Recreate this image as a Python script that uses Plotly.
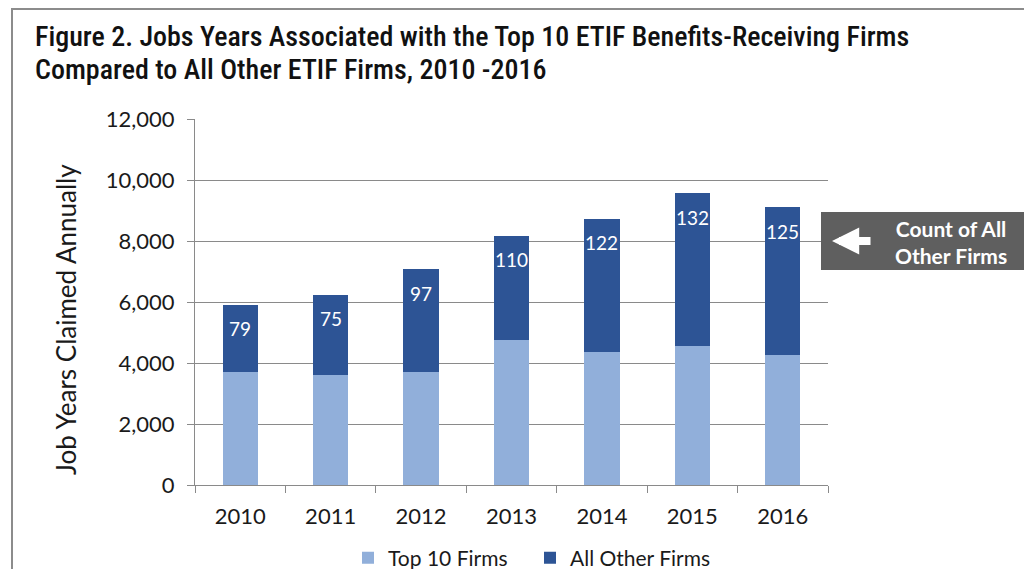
import plotly.graph_objects as go

years = ["2010", "2011", "2012", "2013", "2014", "2015", "2016"]
top10_jobs = [3690, 3610, 3700, 4740, 4350, 4560, 4270]
other_jobs = [2220, 2630, 3380, 3430, 4380, 5010, 4830]
other_counts = [79, 75, 97, 110, 122, 132, 125]

LIGHT = "#91AFDA"
DARK = "#2D5495"
TICKFONT = "Lato, 'Open Sans', sans-serif"
TITLEFONT = "'Liberation Sans Narrow', 'Roboto Condensed', Roboto, sans-serif"

OFF = 8  # page body margin
W, H = 1032 - 2 * OFF, 577 - 2 * OFF
L, R, T, B = 195 - OFF, 1032 - 828 - OFF, 119 - OFF, 577 - 485 - OFF
PW, PH = W - L - R, H - T - B


def px(x):
    return (x - OFF - L) / PW


def py(y):
    return (H - B - (y - OFF)) / PH


fig = go.Figure()
fig.add_trace(go.Bar(x=years, y=top10_jobs, name="Top 10 Firms",
                     marker=dict(color=LIGHT, line=dict(width=0))))
fig.add_trace(go.Bar(x=years, y=other_jobs, name="All Other Firms",
                     marker=dict(color=DARK, line=dict(width=0))))

annotations = []
for i, (a, b, c) in enumerate(zip(top10_jobs, other_jobs, other_counts)):
    annotations.append(dict(x=i, y=a + b, xref="x", yref="y", text=str(c),
                            showarrow=False, yanchor="middle", yshift=-24,
                            font=dict(family=TICKFONT, size=19, color="white")))

# title lines
annotations.append(dict(x=px(33), y=py(37), xref="paper", yref="paper",
                        text="Figure 2. Jobs Years Associated with the Top 10 ETIF Benefits-Receiving Firms",
                        showarrow=False, xanchor="left", yanchor="middle",
                        font=dict(family=TITLEFONT, size=28, weight=500, color="#111111")))
annotations.append(dict(x=px(33), y=py(69), xref="paper", yref="paper",
                        text="Compared to All Other ETIF Firms, 2010 -2016",
                        showarrow=False, xanchor="left", yanchor="middle",
                        font=dict(family=TITLEFONT, size=28, weight=500, color="#111111")))
# y axis title
annotations.append(dict(x=px(66), y=py(320), xref="paper", yref="paper",
                        text="Job Years Claimed Annually", textangle=-90,
                        showarrow=False, xanchor="center", yanchor="middle",
                        font=dict(family=TICKFONT, size=26, color="#1a1a1a")))
# callout text
annotations.append(dict(x=px(951), y=py(242), xref="paper", yref="paper",
                        text="<b>Count of All<br>Other Firms</b>", showarrow=False,
                        xanchor="center", yanchor="middle", align="center",
                        font=dict(family=TICKFONT, size=21, color="white")))
# callout arrow
annotations.append(dict(x=px(832), y=py(241), xref="paper", yref="paper",
                        ax=40, ay=0, axref="pixel", ayref="pixel",
                        text="", showarrow=True, arrowhead=2, arrowsize=0.68,
                        arrowwidth=8, arrowcolor="white"))

shapes = [
    dict(type="rect", xref="paper", yref="paper",
         x0=px(821), x1=px(1030), y0=py(270), y1=py(212),
         fillcolor="#5f5f5f", line=dict(width=0), layer="above"),
    dict(type="rect", xref="paper", yref="paper",
         x0=px(12), x1=px(1029), y0=py(576), y1=py(9),
         fillcolor="rgba(0,0,0,0)", line=dict(color="#8c8c8c", width=2)),
]

fig.update_layout(
    width=W, height=H,
    margin=dict(l=L, r=R, t=T, b=B, autoexpand=False),
    barmode="stack", bargap=0.61,
    plot_bgcolor="white", paper_bgcolor="white",
    legend=dict(orientation="h", x=px(348), y=py(558), xanchor="left", yanchor="middle",
                font=dict(family=TICKFONT, size=21, color="#1a1a1a"),
                itemwidth=30, entrywidth=137, traceorder="normal", bgcolor="rgba(0,0,0,0)"),
    annotations=annotations,
    shapes=shapes,
)
fig.update_xaxes(type="category", showline=True, linecolor="#8a8a8a", linewidth=1,
                 ticks="outside", tickson="boundaries", ticklen=7, tickcolor="#8a8a8a",
                 ticklabelstandoff=12,
                 tickfont=dict(family=TICKFONT, size=22, color="#1a1a1a"),
                 showgrid=False)
fig.update_yaxes(range=[0, 12000], dtick=2000, tickformat=",",
                 showgrid=True, gridcolor="#8a8a8a", gridwidth=1,
                 showline=True, linecolor="#8a8a8a", linewidth=1,
                 ticks="outside", ticklen=7, tickcolor="#8a8a8a", ticklabelstandoff=8,
                 tickfont=dict(family=TICKFONT, size=22, color="#1a1a1a"),
                 zeroline=False)

fig.write_html("out.html")
